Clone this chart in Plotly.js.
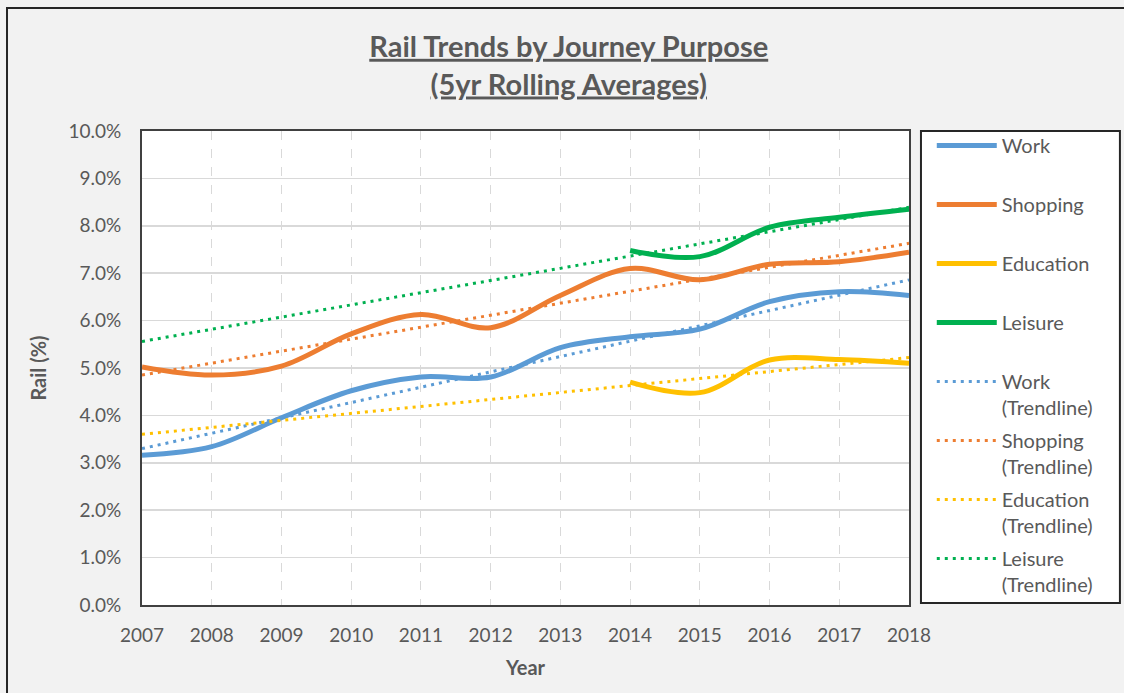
<!DOCTYPE html>
<html>
<head>
<meta charset="utf-8">
<script src="https://cdn.plot.ly/plotly-3.0.1.min.js"></script>
<style>
  html, body { margin: 0; padding: 0; background: #f2f2f2; }
  #graph { width: 1124px; height: 693px; }
</style>
</head>
<body>
<div id="graph"></div>
<script>
// values (percent of journeys by rail)
var years = [2007, 2008, 2009, 2010, 2011, 2012, 2013, 2014, 2015, 2016, 2017, 2018];
var work = [3.16, 3.34, 3.95, 4.52, 4.81, 4.81, 5.43, 5.66, 5.82, 6.40, 6.61, 6.53];
var shopping = [5.02, 4.85, 5.04, 5.72, 6.13, 5.85, 6.53, 7.10, 6.86, 7.19, 7.24, 7.44];
var education = [null, null, null, null, null, null, null, 4.70, 4.48, 5.17, 5.18, 5.10];
var leisure = [null, null, null, null, null, null, null, 7.48, 7.35, 7.97, 8.18, 8.35];

// linear trendlines, start and end values
var trendYears = [2007, 2018];
var workTrend = [3.30, 6.86];
var shoppingTrend = [4.85, 7.63];
var educationTrend = [3.60, 5.22];
var leisureTrend = [5.56, 8.39];

var yTicks = [0, 1, 2, 3, 4, 5, 6, 7, 8, 9, 10];
var yTickText = ['0.0%', '1.0%', '2.0%', '3.0%', '4.0%', '5.0%', '6.0%', '7.0%', '8.0%', '9.0%', '10.0%'];

var colWork = '#5B9BD5', colShop = '#ED7D31', colEdu = '#FFC000', colLeis = '#00B050';
var grey = '#595959';
var font = 'Lato, "Open Sans", sans-serif';

function solid(name, y, color) {
	return {
		x: years, y: y, name: name + '<br>&nbsp;', legendgroup: name,
		mode: 'lines', connectgaps: false, hoverinfo: 'none',
		line: {color: color, width: 5, shape: 'spline', smoothing: 1}
	};
}

function trend(name, y, color) {
	return {
		x: trendYears, y: y, name: name + '<br>(Trendline)', legendgroup: name + 'T',
		mode: 'lines', hoverinfo: 'none',
		line: {color: color, width: 3, dash: '3px,5px'}
	};
}

var traces = [
	solid('Work', work, colWork),
	solid('Shopping', shopping, colShop),
	solid('Education', education, colEdu),
	solid('Leisure', leisure, colLeis),
	trend('Work', workTrend, colWork),
	trend('Shopping', shoppingTrend, colShop),
	trend('Education', educationTrend, colEdu),
	trend('Leisure', leisureTrend, colLeis)
];

var layout = {
	width: 1124,
	height: 693,
	margin: {l: 142, r: 215, t: 131, b: 88},
	paper_bgcolor: '#f2f2f2',
	plot_bgcolor: '#ffffff',
	font: {family: font, size: 19, color: grey},
	title: {
		text: '<b><u>Rail Trends by Journey Purpose</u></b><br><b><u>(5yr Rolling Averages)</u></b>',
		font: {family: font, size: 29, color: grey},
		x: 0.506, xref: 'container', xanchor: 'center',
		y: 0.918, yref: 'container', yanchor: 'middle'
	},
	xaxis: {
		range: [2007, 2018],
		tickvals: years,
		showgrid: true, gridcolor: '#d9d9d9', gridwidth: 1, griddash: 'dash',
		zeroline: false,
		showline: true, linecolor: '#404040', linewidth: 2, mirror: true,
		ticks: '', ticklabelstandoff: 12,
		tickfont: {family: font, size: 19, color: grey},
		title: {text: '<b>Year</b>', font: {family: font, size: 20, color: grey}, standoff: 16}
	},
	yaxis: {
		range: [0, 10],
		tickvals: yTicks,
		ticktext: yTickText,
		showgrid: true, gridcolor: '#d9d9d9', gridwidth: 1.5,
		zeroline: false,
		showline: true, linecolor: '#404040', linewidth: 2, mirror: true,
		ticks: '', ticklabelstandoff: 15,
		tickfont: {family: font, size: 19, color: grey},
		title: {text: '<b>Rail (%)</b>', font: {family: font, size: 20, color: grey}, standoff: 16}
	},
	showlegend: true,
	legend: {
		x: 1.0297, xanchor: 'left', y: 1.0105, yanchor: 'top',
		bgcolor: 'rgba(0,0,0,0)', borderwidth: 0,
		traceorder: 'grouped', tracegroupgap: 4, valign: 'top',
		itemwidth: 60, maxheight: 1,
		font: {family: font, size: 20, color: grey}
	},
	shapes: [
		// legend frame
		{type: 'rect', xref: 'paper', yref: 'paper', x0: 1.0156, x1: 1.275, y0: 0.004, y1: 1,
			line: {color: '#262626', width: 2}, fillcolor: '#ffffff', layer: 'below'},
		// chart outer border
		{type: 'rect', xref: 'paper', yref: 'paper', x0: -0.176, x1: 2, y0: -0.5, y1: 1.2595,
			line: {color: '#262626', width: 2}, fillcolor: 'rgba(0,0,0,0)', layer: 'below'}
	]
};

Plotly.newPlot('graph', traces, layout, {displayModeBar: false, staticPlot: true});
</script>
</body>
</html>
